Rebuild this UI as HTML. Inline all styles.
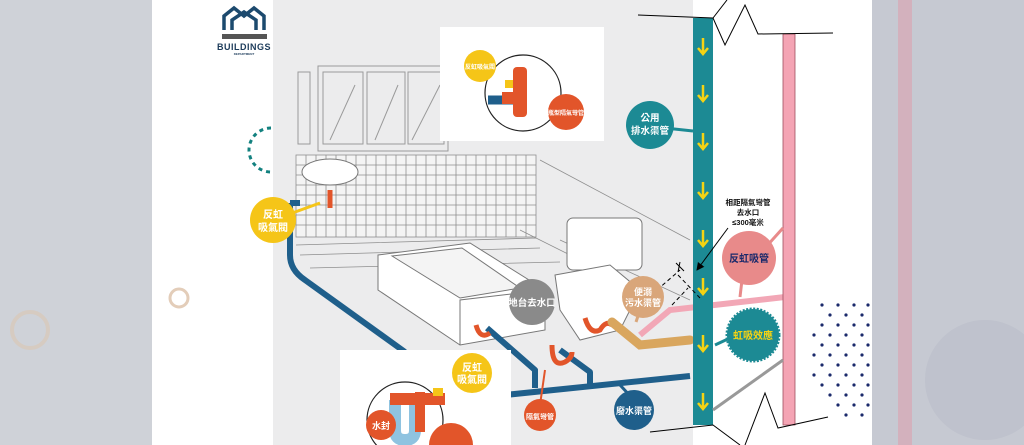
<!DOCTYPE html>
<html><head><meta charset="utf-8"><style>
html,body{margin:0;padding:0;width:1024px;height:445px;overflow:hidden;background:#fff}
svg{display:block}
text{font-family:"Liberation Sans","Noto Sans CJK TC",sans-serif;font-weight:bold}
</style></head><body>
<svg width="1024" height="445" viewBox="0 0 1024 445">
<defs><marker id="ah" markerWidth="8" markerHeight="8" refX="7" refY="4" orient="auto"><path d="M0 0L8 4L0 8Z" fill="#000"/></marker></defs>
<rect x="0" y="0" width="152" height="445" fill="#c9ccd4"/>
<rect x="0" y="0" width="152" height="445" fill="#d3d5db" opacity="0.6"/>
<rect x="872" y="0" width="152" height="445" fill="#c6c9d2"/>
<rect x="898" y="0" width="14" height="445" fill="#d9a7b4" opacity="0.7"/>
<circle cx="985" cy="380" r="60" fill="#b8bcc8" opacity="0.5"/>
<circle cx="30" cy="330" r="18" fill="none" stroke="#d8c7b8" stroke-width="4" opacity="0.7"/>
<rect x="273" y="0" width="420" height="445" fill="#ececed"/>
<g fill="none" stroke="#9a9a9a" stroke-width="1">
<rect x="318" y="66" width="130" height="85"/>
<rect x="323" y="72" width="40" height="72"/><rect x="367" y="72" width="38" height="72"/><rect x="408" y="72" width="36" height="72"/>
<rect x="298" y="72" width="12" height="72"/>
<line x1="330" y1="140" x2="355" y2="85"/><line x1="375" y1="140" x2="398" y2="85"/><line x1="412" y1="140" x2="440" y2="85"/>
</g>
<g stroke="#8f8f8f" stroke-width="0.8" fill="none">
<rect x="296" y="155" width="240" height="82" fill="#f4f4f4"/>
<path d="M306 155V237M316 155V237M326 155V237M336 155V237M346 155V237M356 155V237M366 155V237M376 155V237M386 155V237M396 155V237M406 155V237M416 155V237M426 155V237M436 155V237M446 155V237M456 155V237M466 155V237M476 155V237M486 155V237M496 155V237M506 155V237M516 155V237M526 155V237"/>
<path d="M296 165H536M296 175H536M296 185H536M296 195H536M296 205H536M296 215H536M296 225H536"/>
<path d="M296 245L536 238M300 255L540 248M310 268L560 262M540 160L690 240M560 240L690 300M520 230L660 300"/>
</g>
<ellipse cx="330" cy="172" rx="28" ry="13" fill="#fff" stroke="#777"/>
<path d="M378 255L470 243L545 290L545 330L460 345L378 290Z" fill="#fff" stroke="#777"/>
<path d="M392 256L462 248L520 288L460 298Z" fill="#f4f4f4" stroke="#777"/>
<path d="M460 345L460 300L545 290" fill="none" stroke="#777"/>
<rect x="567" y="218" width="75" height="52" rx="6" fill="#fff" stroke="#777"/>
<path d="M555 275L610 265L640 290L620 330L580 340L560 310Z" fill="#fff" stroke="#777"/>
<g fill="none" stroke="#1f5f8b" stroke-width="6" stroke-linejoin="round">
<path d="M290 203H300M290 203V255Q290 270 305 280L405 352"/>
<path d="M487 328L535 370V388"/>
<path d="M560 350L590 372V385"/>
<path d="M505 395L690 376"/>
</g>
<g fill="none" stroke="#e2552a" stroke-width="5">
<path d="M330 190V208"/>
<path d="M476 325Q480 340 490 333"/>
<path d="M552 345Q552 368 565 362Q572 358 572 352"/>
<path d="M585 318Q590 335 600 330Q606 320 612 325"/>
</g>
<path d="M612 322L640 345L690 340" fill="none" stroke="#d9a65e" stroke-width="9" stroke-linecap="round"/>
<path d="M640 335L670 310L785 297" fill="none" stroke="#f2a7b6" stroke-width="6"/>
<rect x="693" y="18" width="20" height="407" fill="#1c8a94"/>
<g fill="none" stroke="#f5d313" stroke-width="2.5">
<path d="M703 38v15M698 48l5 6 5-6M703 85v15M698 95l5 6 5-6M703 133v15M698 143l5 6 5-6M703 182v15M698 192l5 6 5-6M703 230v15M698 240l5 6 5-6M703 278v15M698 288l5 6 5-6M703 335v15M698 345l5 6 5-6M703 393v15M698 403l5 6 5-6"/>
</g>
<rect x="783" y="34" width="12" height="391" fill="#f4a4b4" stroke="#a05060" stroke-width="0.8"/>
<g fill="none" stroke="#000" stroke-width="1">
<path d="M638 15L713 18L727 0M713 18L725 45L745 5L758 34L833 33"/>
<path d="M650 432L713 425L740 445M745 445L765 393L778 428L828 417"/>
<path d="M713 410L783 360" stroke="#999" stroke-width="3"/>
<path d="M678 275L700 298M657 290L680 270M672 305L688 288" stroke-dasharray="4,3"/>
<path d="M676 263L684 271M680 262L678 272"/>
<path d="M728 228L697 270" marker-end="url(#ah)"/>
</g>
<rect x="440" y="27" width="164" height="114" fill="#fff"/>
<circle cx="523" cy="93" r="38" fill="#fff" stroke="#222" stroke-width="1.2"/>
<path d="M488 100H520" stroke="#1f5f8b" stroke-width="9"/>
<rect x="513" y="67" width="14" height="50" rx="4" fill="#e2552a"/>
<rect x="502" y="92" width="14" height="12" fill="#e2552a"/>
<rect x="505" y="80" width="8" height="8" fill="#f5c518"/>
<circle cx="480" cy="66" r="16" fill="#f5c518"/>
<text x="480" y="69" font-size="6" fill="#fff" text-anchor="middle">反虹吸氣閥</text>
<circle cx="566" cy="112" r="18" fill="#e2552a"/>
<text x="566" y="115" font-size="6" fill="#fff" text-anchor="middle">瓶型隔氣彎管</text>
<rect x="340" y="350" width="171" height="95" fill="#fff"/>
<circle cx="405" cy="420" r="38" fill="#fff" stroke="#222" stroke-width="1.2"/>
<path d="M395 400V430Q395 440 405 440Q415 440 415 430V400" fill="none" stroke="#8fc3e0" stroke-width="12"/>
<rect x="390" y="393" width="55" height="12" fill="#e2552a"/>
<rect x="415" y="392" width="10" height="40" fill="#e2552a"/>
<rect x="433" y="388" width="10" height="8" fill="#f5c518"/>
<circle cx="472" cy="373" r="20" fill="#f5c518"/>
<text x="472" y="371" font-size="10" fill="#fff" text-anchor="middle">反虹</text>
<text x="472" y="383" font-size="10" fill="#fff" text-anchor="middle">吸氣閥</text>
<circle cx="381" cy="425" r="15" fill="#e2552a"/>
<text x="381" y="429" font-size="9" fill="#fff" text-anchor="middle">水封</text>
<circle cx="451" cy="445" r="22" fill="#e2552a"/>
<g fill="none" stroke="#1c4a6e" stroke-width="3.5">
<path d="M224 30V16L234 8L244 16L254 8L264 16V30M232 30V20L244 12L256 20V30"/>
</g>
<rect x="222" y="34" width="45" height="5" fill="#555"/>
<text x="244" y="50" font-size="9" fill="#1c3b5a" text-anchor="middle" letter-spacing="0.5">BUILDINGS</text>
<text x="244" y="55" font-size="3" fill="#1c3b5a" text-anchor="middle">DEPARTMENT</text>
<path d="M271 128A22 22 0 0 0 271 172" fill="none" stroke="#12817f" stroke-width="3" stroke-dasharray="4,4"/>
<circle cx="179" cy="298" r="9" fill="none" stroke="#e3cdb9" stroke-width="3"/>
<g fill="#1b2a6b">
<circle cx="822" cy="305" r="1.6"/><circle cx="838" cy="305" r="1.6"/><circle cx="854" cy="305" r="1.6"/><circle cx="868" cy="305" r="1.6"/>
<circle cx="830" cy="315" r="1.6"/><circle cx="846" cy="315" r="1.6"/><circle cx="862" cy="315" r="1.6"/>
<circle cx="822" cy="325" r="1.6"/><circle cx="838" cy="325" r="1.6"/><circle cx="854" cy="325" r="1.6"/><circle cx="868" cy="325" r="1.6"/>
<circle cx="814" cy="335" r="1.6"/><circle cx="830" cy="335" r="1.6"/><circle cx="846" cy="335" r="1.6"/><circle cx="862" cy="335" r="1.6"/>
<circle cx="822" cy="345" r="1.6"/><circle cx="838" cy="345" r="1.6"/><circle cx="854" cy="345" r="1.6"/><circle cx="868" cy="345" r="1.6"/>
<circle cx="814" cy="355" r="1.6"/><circle cx="830" cy="355" r="1.6"/><circle cx="846" cy="355" r="1.6"/><circle cx="862" cy="355" r="1.6"/>
<circle cx="822" cy="365" r="1.6"/><circle cx="838" cy="365" r="1.6"/><circle cx="854" cy="365" r="1.6"/><circle cx="868" cy="365" r="1.6"/>
<circle cx="814" cy="375" r="1.6"/><circle cx="830" cy="375" r="1.6"/><circle cx="846" cy="375" r="1.6"/><circle cx="862" cy="375" r="1.6"/>
<circle cx="822" cy="385" r="1.6"/><circle cx="838" cy="385" r="1.6"/><circle cx="854" cy="385" r="1.6"/><circle cx="868" cy="385" r="1.6"/>
<circle cx="830" cy="395" r="1.6"/><circle cx="846" cy="395" r="1.6"/><circle cx="862" cy="395" r="1.6"/>
<circle cx="838" cy="405" r="1.6"/><circle cx="854" cy="405" r="1.6"/><circle cx="868" cy="405" r="1.6"/>
<circle cx="846" cy="415" r="1.6"/><circle cx="862" cy="415" r="1.6"/>
</g>
<path d="M273 220L320 203" stroke="#f5c518" stroke-width="3"/>
<circle cx="273" cy="220" r="23" fill="#f5c518"/>
<text x="273" y="218" font-size="10" fill="#fff" text-anchor="middle">反虹</text>
<text x="273" y="231" font-size="10" fill="#fff" text-anchor="middle">吸氣閥</text>
<circle cx="532" cy="302" r="23" fill="#8a8a8a"/>
<text x="532" y="306" font-size="9.5" fill="#fff" text-anchor="middle">地台去水口</text>
<path d="M545 370L540 405" stroke="#e2552a" stroke-width="2"/>
<circle cx="540" cy="415" r="16" fill="#e2552a"/>
<text x="540" y="419" font-size="7" fill="#fff" text-anchor="middle">隔氣彎管</text>
<path d="M620 385L634 400" stroke="#1f5f8b" stroke-width="3"/>
<circle cx="634" cy="410" r="20" fill="#1f5f8b"/>
<text x="634" y="414" font-size="9" fill="#fff" text-anchor="middle">廢水渠管</text>
<path d="M640 310L636 322" stroke="#d9a67a" stroke-width="3"/>
<circle cx="643" cy="297" r="21" fill="#d9a67a"/>
<text x="643" y="295" font-size="9" fill="#fff" text-anchor="middle">便溺</text>
<text x="643" y="306" font-size="9" fill="#fff" text-anchor="middle">污水渠管</text>
<path d="M665 128L693 131" stroke="#1c8a94" stroke-width="3"/>
<circle cx="650" cy="125" r="24" fill="#1c8a94"/>
<text x="650" y="121" font-size="9.5" fill="#fff" text-anchor="middle">公用</text>
<text x="650" y="134" font-size="9.5" fill="#fff" text-anchor="middle">排水渠管</text>
<text x="748" y="205" font-size="7.5" fill="#111" text-anchor="middle">相距隔氣彎管</text>
<text x="748" y="215" font-size="7.5" fill="#111" text-anchor="middle">去水口</text>
<text x="748" y="225" font-size="7.5" fill="#111" text-anchor="middle">≤300毫米</text>
<path d="M765 248L783 228M742 280L740 297" stroke="#e88a8a" stroke-width="3"/>
<circle cx="749" cy="258" r="27" fill="#e88a8a"/>
<text x="749" y="262" font-size="10" fill="#1b2a6b" text-anchor="middle">反虹吸管</text>
<path d="M730 338L715 345" stroke="#1c8a94" stroke-width="3"/>
<circle cx="753" cy="335" r="26" fill="#1c8a94" stroke="#1c8a94" stroke-width="3" stroke-dasharray="2,1.5"/>
<text x="753" y="339" font-size="10" fill="#f5d313" text-anchor="middle">虹吸效應</text>
</svg>
</body></html>
